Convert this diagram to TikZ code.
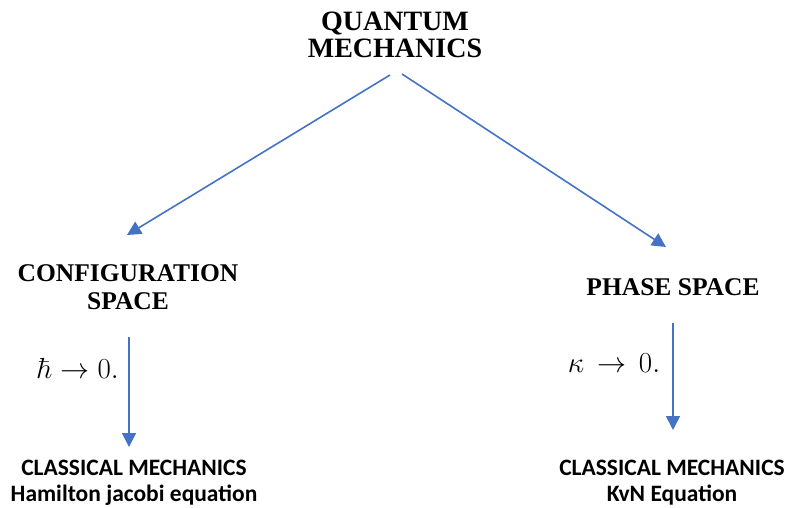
\RequirePackage{fix-cm}
\documentclass[tikz,border=0pt]{standalone}
\usepackage[no-math]{fontspec}
\setmainfont{Liberation Serif}
\newfontfamily\calib{Carlito}
\usetikzlibrary{arrows.meta}
\definecolor{arrblue}{HTML}{4472C4}
\begin{document}
\begin{tikzpicture}[x=1pt,y=-1pt,
  title/.style={inner sep=0pt,align=center,font=\fontsize{28}{27}\selectfont\bfseries},
  head/.style={inner sep=0pt,align=center,font=\fontsize{25.5}{28}\selectfont\bfseries},
  limit/.style={inner sep=0pt,font=\fontsize{29}{30}\selectfont},
  result/.style={inner sep=0pt,align=center,font=\fontsize{23.5}{26}\selectfont\calib\bfseries},
  arr/.style={draw=arrblue,line width=1.6pt,-{Triangle[width=14pt,length=14pt]},fill=arrblue}]
\useasboundingbox (0,0) rectangle (790,508);
\node[title] (qm) at (395,35) {QUANTUM\\MECHANICS};
\node[head] (cs) at (128,287) {CONFIGURATION\\SPACE};
\node[head,anchor=base] (ps) at (673,295) {PHASE SPACE};
\node[limit,anchor=base] (hl) at (78,378) {$\hbar\to 0.$};
\node[limit,anchor=base] (kl) at (614,372) {$\kappa\mathrel{\,\to\,} 0.$};
\node[result] (cml) at (134,483) {CLASSICAL MECHANICS\\Hamilton jacobi equation};
\node[result] (cmr) at (672,483) {CLASSICAL MECHANICS\\KvN Equation};
\coordinate (l0) at (390,75);
\coordinate (l1) at (127,235);
\coordinate (r0) at (402,74);
\coordinate (r1) at (666,247);
\coordinate (a0) at (129,337);
\coordinate (a1) at (129,447);
\coordinate (b0) at (673,323);
\coordinate (b1) at (673,430);
\draw[arr] (l0) -- (l1);
\draw[arr] (r0) -- (r1);
\draw[arr] (a0) -- (a1);
\draw[arr] (b0) -- (b1);
\end{tikzpicture}
\end{document}
